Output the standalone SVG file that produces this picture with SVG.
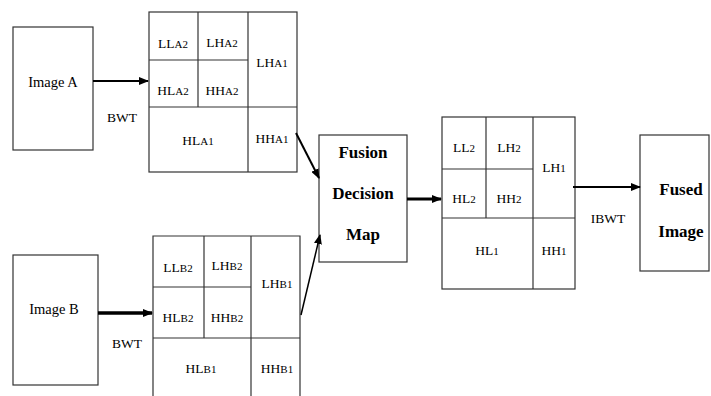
<svg xmlns="http://www.w3.org/2000/svg" width="711" height="396" viewBox="0 0 711 396" font-family="'Liberation Serif', 'Times New Roman', 'DejaVu Serif', serif">
<defs>
<marker id="ah" markerUnits="userSpaceOnUse" markerWidth="10" markerHeight="8" refX="9" refY="4" orient="auto">
<path d="M0,0 L10,4 L0,8 Z" fill="#000"/>
</marker>
<style>
.box{fill:#fff;stroke:#333;stroke-width:1.2}
.ln{stroke:#333;stroke-width:1.2;fill:none}
text{font-family:'Liberation Serif','Times New Roman','DejaVu Serif',serif}
.t{font-size:13.5px;fill:#000;text-anchor:middle}
.s{font-size:11px}
.b{font-size:17px;font-weight:bold;fill:#000;text-anchor:middle}
.c{stroke:#000;fill:none}
</style>
</defs>
<rect width="711" height="396" fill="#fff"/>

<g id="imageA">
<rect class="box" x="13" y="27" width="80" height="123"/>
<text class="t" x="53" y="87" font-family="Liberation Serif" style="font-size:14.5px">Image A</text>
</g>

<g id="gridA">
<rect class="box" x="149" y="12" width="148" height="160"/>
<line class="ln" x1="198" y1="12" x2="198" y2="107"/>
<line class="ln" x1="248" y1="12" x2="248" y2="172"/>
<line class="ln" x1="149" y1="60" x2="248" y2="60"/>
<line class="ln" x1="149" y1="107" x2="297" y2="107"/>
<text class="t" x="173" y="48">LL<tspan class="s">A2</tspan></text>
<text class="t" x="222" y="47">LH<tspan class="s">A2</tspan></text>
<text class="t" x="272" y="67">LH<tspan class="s">A1</tspan></text>
<text class="t" x="173" y="95">HL<tspan class="s">A2</tspan></text>
<text class="t" x="222" y="95">HH<tspan class="s">A2</tspan></text>
<text class="t" x="198" y="145">HL<tspan class="s">A1</tspan></text>
<text class="t" x="272" y="143">HH<tspan class="s">A1</tspan></text>
</g>

<g id="imageB">
<rect class="box" x="13" y="255" width="85" height="130"/>
<text class="t" x="54" y="314" style="font-size:14.5px">Image B</text>
</g>

<g id="gridB">
<path class="ln" d="M153,400 L153,236 L300,236 L300,400"/>
<line class="ln" x1="204" y1="236" x2="204" y2="338"/>
<line class="ln" x1="251" y1="236" x2="251" y2="400"/>
<line class="ln" x1="153" y1="287" x2="251" y2="287"/>
<line class="ln" x1="153" y1="338" x2="300" y2="338"/>
<text class="t" x="178" y="272">LL<tspan class="s">B2</tspan></text>
<text class="t" x="227" y="270">LH<tspan class="s">B2</tspan></text>
<text class="t" x="277" y="288">LH<tspan class="s">B1</tspan></text>
<text class="t" x="178" y="322">HL<tspan class="s">B2</tspan></text>
<text class="t" x="227" y="322">HH<tspan class="s">B2</tspan></text>
<text class="t" x="201" y="373">HL<tspan class="s">B1</tspan></text>
<text class="t" x="277" y="373">HH<tspan class="s">B1</tspan></text>
</g>

<g id="fusion">
<rect class="box" x="319" y="135" width="88" height="127"/>
<text class="b" x="363" y="158">Fusion</text>
<text class="b" x="363" y="199">Decision</text>
<text class="b" x="363" y="240">Map</text>
</g>

<g id="gridC">
<rect class="box" x="442" y="117" width="133" height="172"/>
<line class="ln" x1="486" y1="117" x2="486" y2="218"/>
<line class="ln" x1="533" y1="117" x2="533" y2="289"/>
<line class="ln" x1="442" y1="169" x2="533" y2="169"/>
<line class="ln" x1="442" y1="218" x2="575" y2="218"/>
<text class="t" x="464" y="152">LL<tspan class="s">2</tspan></text>
<text class="t" x="509" y="152">LH<tspan class="s">2</tspan></text>
<text class="t" x="554" y="172">LH<tspan class="s">1</tspan></text>
<text class="t" x="464" y="203">HL<tspan class="s">2</tspan></text>
<text class="t" x="509" y="203">HH<tspan class="s">2</tspan></text>
<text class="t" x="487" y="255">HL<tspan class="s">1</tspan></text>
<text class="t" x="554" y="255">HH<tspan class="s">1</tspan></text>
</g>

<g id="fused">
<rect class="box" x="640" y="135" width="69" height="136"/>
<text class="b" x="681" y="195">Fused</text>
<text class="b" x="681" y="237">Image</text>
</g>

<g id="labels">
<text class="t" x="122" y="122">BWT</text>
<text class="t" x="127" y="348">BWT</text>
<text class="t" x="608" y="223">IBWT</text>
</g>

<g id="connectors">
<line class="c" x1="93" y1="81" x2="148" y2="81" stroke-width="2" marker-end="url(#ah)"/>
<line class="c" x1="98" y1="313" x2="152" y2="313" stroke-width="3.5" marker-end="url(#ah)"/>
<line class="c" x1="296" y1="133" x2="319" y2="178" stroke-width="2" marker-end="url(#ah)"/>
<line class="c" x1="301" y1="315" x2="320" y2="235" stroke-width="1.5" marker-end="url(#ah)"/>
<line class="c" x1="407" y1="199" x2="441" y2="199" stroke-width="3" marker-end="url(#ah)"/>
<line class="c" x1="573" y1="187" x2="640" y2="187" stroke-width="2" marker-end="url(#ah)"/>
</g>
</svg>
